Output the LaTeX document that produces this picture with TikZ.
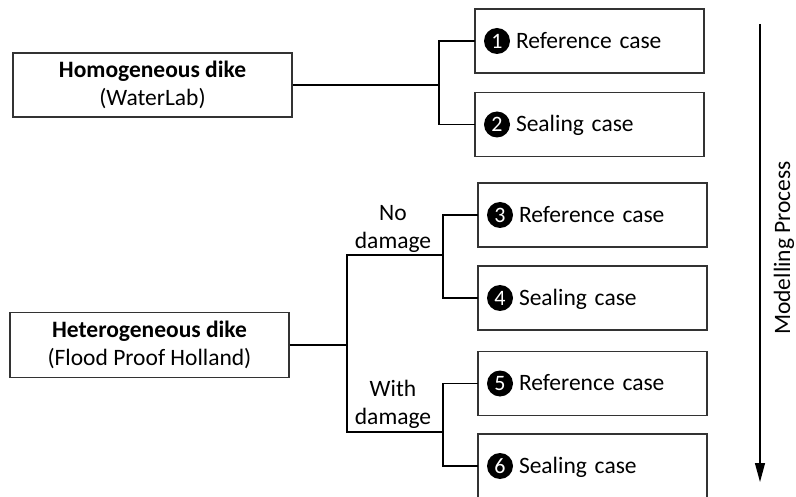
\documentclass[tikz,border=0pt]{standalone}
\usepackage{fontspec}
\setmainfont{Carlito}
\usetikzlibrary{arrows.meta}
\newcommand{\casenum}[1]{\tikz[baseline=(n.base)]\node[circle,fill=black,text=white,inner sep=0pt,minimum size=26pt,font=\fontsize{22}{24}\selectfont] (n) {#1};}
\begin{document}
\begin{tikzpicture}[x=1pt,y=-1pt,line width=1.2pt,
  dikebox/.style={draw=black!80,minimum width=279pt,minimum height=64pt,align=center,inner sep=0pt,font=\fontsize{23.5}{28}\selectfont},
  casebox/.style={draw=black!80,minimum width=229pt,minimum height=64pt,text width=211pt,align=left,inner xsep=9pt,inner ysep=0pt,font=\fontsize{23.5}{28}\selectfont},
  branch/.style={align=center,font=\fontsize{23.5}{28}\selectfont}]
\useasboundingbox (0,0) rectangle (796,497);
\node[dikebox] (homog) at (152.5,85) {\textbf{Homogeneous dike}\\(WaterLab)};
\node[dikebox,minimum height=65pt] (hetero) at (149.5,345) {\textbf{Heterogeneous dike}\\(Flood Proof Holland)};
\node[casebox] (c1) at (589.5,41) {\casenum{1}\hspace{6pt}Reference case};
\node[casebox] (c2) at (589.5,124.5) {\casenum{2}\hspace{6pt}Sealing case};
\node[casebox] (c3) at (592.5,215) {\casenum{3}\hspace{6pt}Reference case};
\node[casebox] (c4) at (592.5,298) {\casenum{4}\hspace{6pt}Sealing case};
\node[casebox] (c5) at (592.5,383.5) {\casenum{5}\hspace{6pt}Reference case};
\node[casebox] (c6) at (592.5,466) {\casenum{6}\hspace{6pt}Sealing case};
\node[branch] (nodmg) at (393,229) {No\\damage};
\node[branch] (withdmg) at (393,404.5) {With\\damage};
\coordinate (j1) at (439,85);
\coordinate (j2) at (347,345);
\coordinate (jnd) at (443,255);
\coordinate (jwd) at (443,432);
\draw (homog.east) -- (j1);
\draw (c1.west) -| (j1) |- (c2.west);
\draw (hetero.east) -- (j2);
\draw (jnd) -| (j2) |- (jwd);
\draw (c3.west) -| (jnd) |- (c4.west);
\draw (c5.west) -| (jwd) |- (c6.west);
\coordinate (top) at (760,24);
\coordinate (bot) at (760,482);
\draw[-{Triangle[length=19pt,width=10pt]}] (top) -- (bot);
\node[rotate=90,anchor=base,inner sep=0pt,font=\fontsize{23.5}{28}\selectfont] (proc) at (790,248) {Modelling Process};
\end{tikzpicture}
\end{document}
